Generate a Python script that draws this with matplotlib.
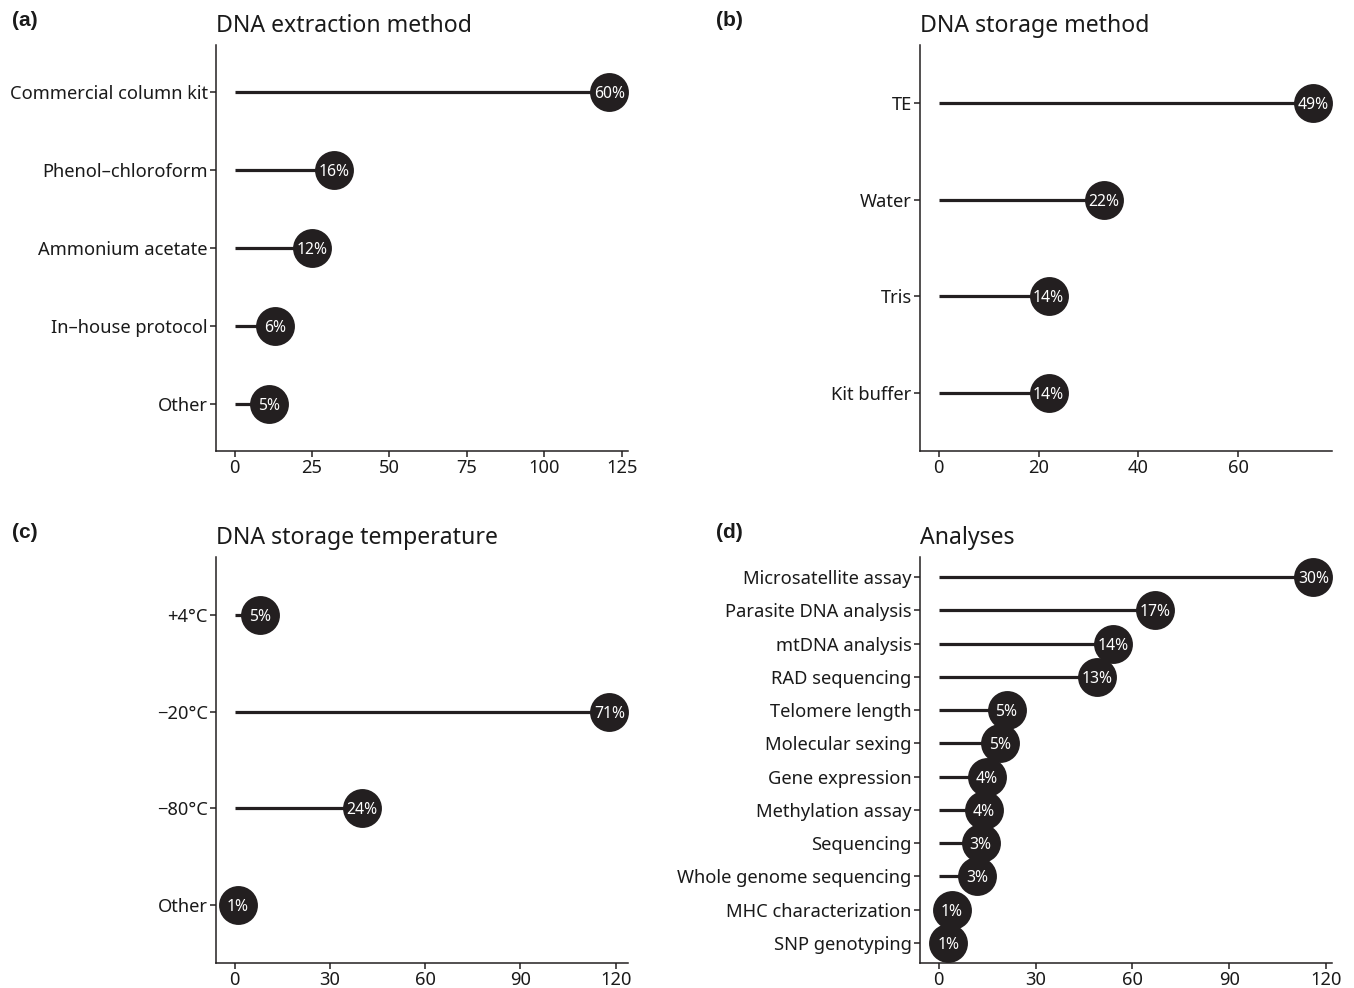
import matplotlib
matplotlib.use("Agg")
import matplotlib.pyplot as plt
import numpy as np

plt.rcParams['font.family'] = ['Noto Sans', 'DejaVu Sans']

# ---- data ----
extraction_cats = ["Commercial column kit", "Phenol\u2013chloroform", "Ammonium acetate",
                   "In\u2013house protocol", "Other"]
extraction_vals = [121, 32, 25, 13, 11]
extraction_ticks = [0, 25, 50, 75, 100, 125]

storage_cats = ["TE", "Water", "Tris", "Kit buffer"]
storage_vals = [75, 33, 22, 22]
storage_ticks = [0, 20, 40, 60]

temp_cats = ["+4\u00b0C", "\u221220\u00b0C", "\u221280\u00b0C", "Other"]
temp_vals = [8, 118, 40, 1]
temp_ticks = [0, 30, 60, 90, 120]

analysis_cats = ["Microsatellite assay", "Parasite DNA analysis", "mtDNA analysis",
                 "RAD sequencing", "Telomere length", "Molecular sexing",
                 "Gene expression", "Methylation assay", "Sequencing",
                 "Whole genome sequencing", "MHC characterization", "SNP genotyping"]
analysis_vals = [116, 67, 54, 49, 21, 19, 15, 14, 13, 12, 4, 3]
analysis_ticks = [0, 30, 60, 90, 120]

panels = [
    ("(a)", "DNA extraction method", extraction_cats, extraction_vals, extraction_ticks),
    ("(b)", "DNA storage method", storage_cats, storage_vals, storage_ticks),
    ("(c)", "DNA storage temperature", temp_cats, temp_vals, temp_ticks),
    ("(d)", "Analyses", analysis_cats, analysis_vals, analysis_ticks),
]

W, H = 1354, 988
fig = plt.figure(figsize=(W / 100, H / 100), dpi=100)

dark = "#231f20"
positions = [(216, 45), (920, 45), (216, 557), (920, 557)]
ax_w, ax_h = 412, 406

for (tag, title, cats, vals, ticks), (px, py) in zip(panels, positions):
    ax = fig.add_axes([px / W, 1 - (py + ax_h) / H, ax_w / W, ax_h / H])
    n = len(cats)
    y = np.arange(n)[::-1] + 1  # first category at top
    vals = np.array(vals)
    total = vals.sum()
    ax.hlines(y, 0, vals, color=dark, lw=2.3, zorder=1)
    ax.plot(vals, y, 'o', color=dark, ms=28, zorder=2, markeredgewidth=0)
    for xv, yv in zip(vals, y):
        pct = int(np.floor(xv / total * 100 + 0.5))
        ax.text(xv, yv, f"{pct}%", color="white", ha="center", va="center_baseline",
                fontsize=11.3, zorder=3)
    vmax = vals.max()
    ax.set_xlim(-0.05 * vmax, vmax * 1.05)
    ax.set_ylim(0.4, n + 0.6)
    ax.set_yticks(y)
    ax.set_yticklabels(cats)
    ax.set_xticks(ticks)
    for s in ["top", "right"]:
        ax.spines[s].set_visible(False)
    for s in ["left", "bottom"]:
        ax.spines[s].set_color(dark)
        ax.spines[s].set_linewidth(1.1)
    ax.tick_params(axis='both', colors=dark, length=4, width=1.1, labelsize=13.2,
                   pad=2, labelcolor="#1a1a1a")
    ax.set_title(title, loc="left", fontsize=16.6, color="#1a1a1a", pad=9)
    fig.text((px - 204) / W, 1 - (py - 24) / H, tag, fontsize=15, fontweight="bold",
             family="Liberation Sans", ha="left", va="center", color="#1a1a1a")

fig.savefig("out.png", dpi=100, facecolor="white")
